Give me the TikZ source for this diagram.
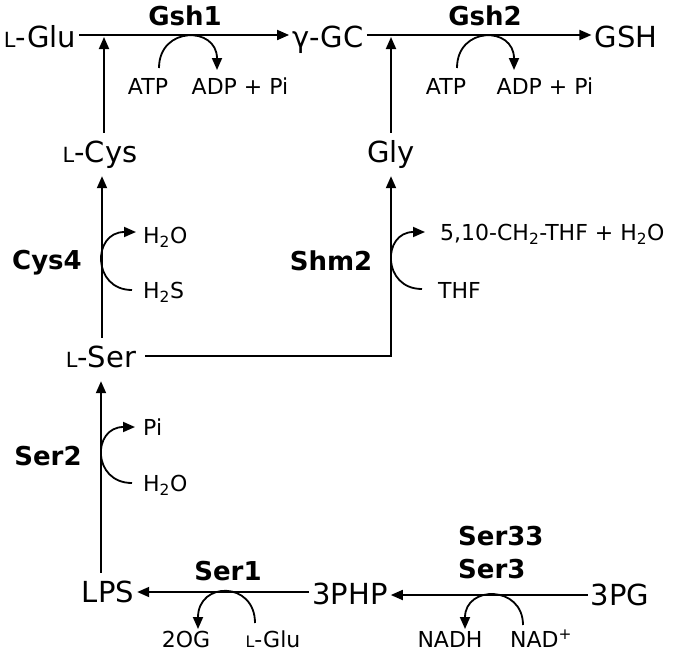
\documentclass[tikz,border=0pt]{standalone}
\usepackage{fontspec}
\usepackage{graphicx}
\setmainfont{DejaVu Sans}
\usetikzlibrary{arrows.meta}
\newcommand{\Lc}{\scalebox{0.72}{L}}
\begin{document}
\begin{tikzpicture}[x=1pt,y=-1pt,
  met/.style={font=\fontsize{29}{29}\selectfont, anchor=base, inner xsep=3pt, inner ysep=9pt, text height=20pt, text depth=5pt},
  sm/.style={font=\fontsize{22}{22}\selectfont, anchor=base, inner sep=0pt},
  enz/.style={font=\bfseries\fontsize{26}{26}\selectfont, anchor=base, inner sep=0pt},
  arr/.style={line width=1.8pt, -{Triangle[length=12pt,width=10pt]}}]
\useasboundingbox (0,0) rectangle (685,653);
% metabolites
\node[met] (lglu) at (40,47) {\Lc-Glu};
\node[met] (ggc) at (328,47) {γ-GC};
\node[met] (gsh) at (626,47) {GSH};
\node[met] (lcys) at (100,162) {\Lc-Cys};
\node[met] (gly) at (391,162) {Gly};
\node[met] (lser) at (101,367) {\Lc-Ser};
\node[met] (lps) at (108,602) {LPS};
\node[met] (php) at (350,604) {3PHP};
\node[met] (pg) at (620,605) {3PG};
% enzymes
\node[enz] (gsh1) at (185,25) {Gsh1};
\node[enz] (gsh2) at (485,25) {Gsh2};
\node[enz] (cys4) at (47,269) {Cys4};
\node[enz] (shm2) at (331,270) {Shm2};
\node[enz] (ser2) at (48,465) {Ser2};
\node[enz] (ser1) at (228,580) {Ser1};
\node[enz, anchor=base west] (ser33) at (458,545) {Ser33};
\node[enz, anchor=base west] (ser3) at (458,578) {Ser3};
% cofactors
\node[sm] (atp1) at (148,94) {ATP};
\node[sm] (adp1) at (240,94) {ADP + Pi};
\node[sm] (atp2) at (446,94) {ATP};
\node[sm] (adp2) at (545,94) {ADP + Pi};
\node[sm, anchor=base west] (h2oa) at (143,243) {H\textsubscript{2}O};
\node[sm, anchor=base west] (h2s) at (143,298) {H\textsubscript{2}S};
\node[sm, anchor=base west] (ch2thf) at (440,240) {5,10-CH\textsubscript{2}-THF + H\textsubscript{2}O};
\node[sm, anchor=base west] (thf) at (438,298) {THF};
\node[sm, anchor=base west] (pi) at (143,435) {Pi};
\node[sm, anchor=base west] (h2ob) at (143,491) {H\textsubscript{2}O};
\node[sm] (og) at (186,647) {2OG};
\node[sm] (lglub) at (273,647) {\Lc-Glu};
\node[sm] (nadh) at (450,647) {NADH};
\node[sm] (nad) at (541,647) {NAD\textsuperscript{+}};
% helper coordinates
\coordinate (top) at (0,35);
\coordinate (j1) at (104,37);
\coordinate (j2) at (391,37);
\coordinate (c1) at (102,0);
\coordinate (c2) at (101,0);
\coordinate (sg) at (391,356);
\coordinate (r1) at (0,592);
\coordinate (r2) at (0,595);
% main arrows
\draw[arr] (lglu.east |- top) -- (ggc.west |- top);
\draw[arr] (ggc.east |- top) -- (gsh.west |- top);
\draw[arr] (j1 |- lcys.north) -- (j1);
\draw[arr] (gly.north) -- (j2);
\draw[arr] (c1 |- lser.north) -- (c1 |- lcys.south);
\draw[arr] ([xshift=6pt]lser.east |- sg) -- (sg) -- (gly.south);
\draw[arr] (c2 |- lps.north) -- (c2 |- lser.south);
\draw[arr] (php.west |- r1) -- (lps.east |- r1);
\draw[arr] (pg.west |- r2) -- (php.east |- r2);
% side reactions
\coordinate (g1s) at (159,68); \coordinate (g1e) at (217,70);
\draw[arr] (g1s) .. controls (159,26) and (217,26) .. (g1e);
\coordinate (g2s) at (457,68); \coordinate (g2e) at (514,70);
\draw[arr] (g2s) .. controls (457,26) and (514,26) .. (g2e);
\coordinate (c4s) at (132,290); \coordinate (c4e) at (136,232);
\draw[arr] (c4s) .. controls (92,290) and (92,232) .. (c4e);
\coordinate (s2s) at (422,289); \coordinate (s2e) at (425,232);
\draw[arr] (s2s) .. controls (382,289) and (382,232) .. (s2e);
\coordinate (r2s) at (132,483); \coordinate (r2e) at (135,427);
\draw[arr] (r2s) .. controls (92,483) and (92,427) .. (r2e);
\coordinate (r1s) at (255,623); \coordinate (r1e) at (198,629);
\draw[arr] (r1s) .. controls (255,581) and (198,581) .. (r1e);
\coordinate (r3s) at (523,625); \coordinate (r3e) at (465,629);
\draw[arr] (r3s) .. controls (523,585) and (465,585) .. (r3e);
\end{tikzpicture}
\end{document}
